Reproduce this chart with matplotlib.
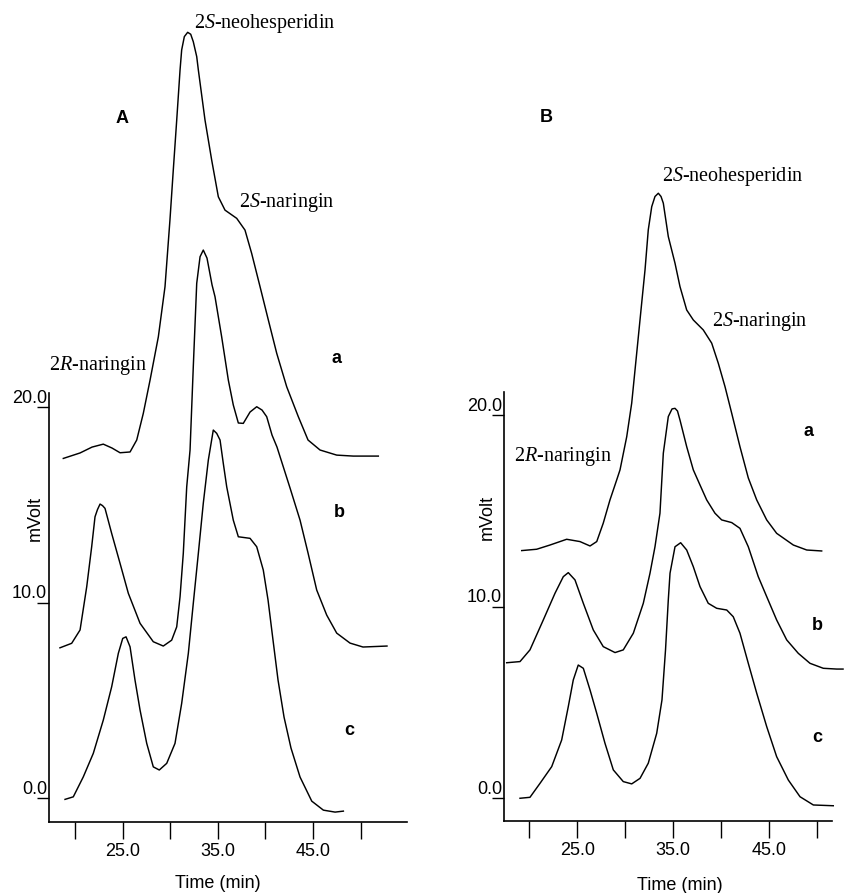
import matplotlib
matplotlib.use('Agg')
import matplotlib.pyplot as plt

plt.rcParams['font.family'] = 'Liberation Sans'
plt.rcParams['mathtext.fontset'] = 'custom'
plt.rcParams['mathtext.rm'] = 'Liberation Serif'
plt.rcParams['mathtext.it'] = 'Liberation Serif:italic'

# ---- data (time in min, signal in mVolt) ----
x_ticks = [20, 25, 30, 35, 40, 45, 50]
x_ticklabels = ['', '25.0', '', '35.0', '', '45.0', '']
y_ticks = [0, 10, 20]
y_ticklabels = ['0.0', '10.0', '20.0']

# panel A
tA_a = [18.77, 20.53, 21.79, 22.97, 23.89, 24.73, 25.78, 26.48, 27.17, 27.88, 28.75, 29.45,
        29.97, 30.32, 30.68, 31.03, 31.20, 31.48, 31.83, 32.15, 32.42, 32.78, 32.95, 33.65,
        34.35, 35.05, 35.75, 36.98, 37.85, 38.55, 39.43, 40.30, 41.18, 42.23, 43.45, 44.47,
        45.73, 47.48, 49.22, 51.85]
vA_a = [17.36, 17.64, 17.94, 18.09, 17.89, 17.65, 17.69, 18.30, 19.66, 21.36, 23.57, 26.13,
        29.54, 32.09, 34.64, 37.20, 38.22, 38.90, 39.12, 39.02, 38.64, 37.88, 37.20, 34.64,
        32.60, 30.72, 30.04, 29.62, 29.02, 27.83, 26.13, 24.43, 22.73, 21.02, 19.49, 18.30,
        17.79, 17.53, 17.48, 17.48]

tA_b = [18.42, 19.65, 20.53, 21.23, 21.75, 22.10, 22.36, 22.63, 22.89, 23.15, 23.85, 24.73,
        25.60, 26.83, 28.22, 29.27, 30.15, 30.68, 31.03, 31.37, 31.73, 32.08, 32.42, 32.78,
        33.13, 33.47, 33.86, 34.39, 34.70, 35.40, 36.10, 36.62, 37.15, 37.67, 38.38, 39.08,
        39.64, 40.13, 40.69, 41.21, 42.58, 43.63, 44.47, 45.38, 46.43, 47.48, 48.88, 50.24,
        52.76]
vA_b = [7.69, 7.92, 8.60, 10.81, 12.85, 14.38, 14.75, 15.03, 14.95, 14.81, 13.53, 12.00,
        10.47, 8.94, 8.00, 7.78, 8.08, 8.76, 10.30, 12.51, 15.91, 17.79, 22.04, 26.30,
        27.66, 28.00, 27.59, 26.22, 25.62, 23.57, 21.36, 20.09, 19.17, 19.15, 19.73, 20.00,
        19.83, 19.49, 18.55, 17.94, 15.85, 14.21, 12.53, 10.64, 9.36, 8.44, 7.93, 7.73,
        7.78]

tA_c = [18.95, 19.82, 20.87, 21.92, 22.97, 23.85, 24.55, 25.01, 25.36, 25.78, 26.30, 26.83,
        27.53, 28.22, 28.85, 29.63, 30.50, 31.20, 31.90, 32.42, 32.95, 33.47, 34.00, 34.52,
        34.88, 35.23, 35.57, 35.93, 36.62, 37.15, 38.38, 39.08, 39.77, 40.27, 40.79, 41.32,
        41.95, 42.68, 43.63, 44.86, 46.08, 47.31, 48.18]
vA_c = [-0.05, 0.08, 1.10, 2.30, 4.00, 5.70, 7.41, 8.17, 8.25, 7.74, 6.04, 4.51,
        2.81, 1.61, 1.45, 1.79, 2.81, 4.85, 7.41, 9.96, 12.51, 15.07, 17.28, 18.81,
        18.64, 18.30, 17.11, 15.91, 14.21, 13.36, 13.28, 12.85, 11.66, 10.13, 8.09, 6.04,
        4.15, 2.57, 1.09, -0.14, -0.60, -0.70, -0.65]

# panel B
tB_a = [19.21, 20.77, 22.16, 23.90, 25.29, 26.34, 27.04, 27.72, 28.42, 29.12, 29.47, 30.17,
        30.69, 31.21, 31.73, 32.08, 32.42, 32.78, 33.12, 33.47, 33.75, 33.99, 34.51, 35.21,
        35.73, 36.43, 37.12, 38.16, 39.04, 39.73, 40.43, 41.13, 41.99, 42.86, 43.74, 44.78,
        45.82, 47.56, 48.96, 50.52]
vB_a = [12.92, 12.99, 13.21, 13.51, 13.39, 13.16, 13.39, 14.35, 15.56, 16.60, 17.13, 18.86,
        20.61, 23.21, 25.82, 27.56, 29.65, 30.86, 31.39, 31.56, 31.39, 31.04, 29.30, 27.91,
        26.69, 25.47, 24.95, 24.43, 23.74, 22.69, 21.47, 20.08, 18.34, 16.71, 15.56, 14.52,
        13.82, 13.21, 12.95, 12.90]

tB_b = [17.64, 19.03, 20.07, 21.46, 22.68, 23.55, 24.07, 24.77, 25.64, 26.68, 27.72, 28.95,
        29.81, 30.86, 31.90, 32.60, 33.12, 33.64, 33.99, 34.51, 34.90, 35.21, 35.47, 35.73,
        36.43, 37.12, 37.82, 38.52, 39.38, 40.08, 41.13, 41.99, 42.86, 43.90, 44.78, 45.82,
        46.87, 48.08, 49.30, 50.69, 52.09, 52.75]
vB_b = [7.07, 7.13, 7.74, 9.30, 10.69, 11.56, 11.77, 11.39, 10.17, 8.78, 7.91, 7.60,
        7.74, 8.61, 10.17, 11.74, 13.12, 14.87, 18.00, 19.91, 20.31, 20.34, 20.20, 19.73,
        18.34, 17.13, 16.34, 15.56, 14.87, 14.52, 14.38, 14.08, 13.12, 11.56, 10.52, 9.30,
        8.26, 7.56, 7.04, 6.78, 6.74, 6.74]

tB_c = [19.03, 20.07, 21.12, 22.34, 23.38, 24.07, 24.59, 25.11, 25.64, 26.34, 27.04, 27.90,
        28.77, 29.81, 30.69, 31.56, 32.42, 33.30, 33.85, 34.22, 34.51, 34.69, 35.21, 35.80,
        36.43, 37.12, 37.82, 38.68, 39.56, 40.61, 41.29, 41.99, 42.86, 43.74, 44.78, 45.82,
        47.04, 48.26, 49.65, 51.73]
vB_c = [0.00, 0.05, 0.78, 1.65, 3.04, 4.78, 6.17, 6.95, 6.78, 5.65, 4.43, 2.87,
        1.48, 0.87, 0.75, 1.04, 1.83, 3.39, 5.13, 7.74, 10.35, 11.74, 13.12, 13.33,
        12.95, 12.08, 11.04, 10.17, 9.91, 9.82, 9.47, 8.61, 7.04, 5.48, 3.74, 2.17,
        0.95, 0.08, -0.35, -0.39]

W, H = 844, 893
fig = plt.figure(figsize=(W / 100, H / 100), dpi=100)


def add_axes_px(left, top, right, bottom):
    ax = fig.add_axes([left / W, 1 - bottom / H, (right - left) / W, (bottom - top) / H])
    ax.patch.set_alpha(0)
    return ax


def ftext(px, py, s, **kw):
    return fig.text(px / W, 1 - py / H, s, **kw)


def style(ax, ytop, xright):
    for s in ['top', 'right']:
        ax.spines[s].set_visible(False)
    for s in ['left', 'bottom']:
        ax.spines[s].set_linewidth(1.2)
    ax.spines['left'].set_bounds(ax.get_ylim()[0], ytop)
    ax.spines['bottom'].set_bounds(ax.get_xlim()[0], xright)
    ax.set_xticks(x_ticks)
    ax.set_xticklabels(x_ticklabels)
    ax.tick_params(axis='x', direction='out', length=12, width=1.0, pad=3, labelsize=13)
    ax.set_yticks(y_ticks)
    ax.set_yticklabels([])
    ax.tick_params(axis='y', direction='out', length=8.5, width=1.0)
    for v, lab in zip(y_ticks, y_ticklabels):
        ax.annotate(lab, xy=(0, v), xycoords=('axes fraction', 'data'), xytext=(-1.5, 3),
                    textcoords='offset points', ha='right', va='baseline', fontsize=13)


lw = 1.05
serif = 'Liberation Serif'

# ---- panel A ----
axA = add_axes_px(49.3, 0, 406.7, 821.7)
axA.set_xlim(17.30, 54.83)
axA.set_ylim(-1.19, 40.77)
for t, v in [(tA_a, vA_a), (tA_b, vA_b), (tA_c, vA_c)]:
    axA.plot(t, v, color='black', lw=lw, clip_on=False, solid_joinstyle='round')
style(axA, 20.7, 54.83)

# ---- panel B ----
axB = add_axes_px(504, 0, 844, 820.7)
axB.set_xlim(17.36, 52.85)
axB.set_ylim(-1.17, 41.64)
for t, v in [(tB_a, vB_a), (tB_b, vB_b), (tB_c, vB_c)]:
    axB.plot(t, v, color='black', lw=lw, clip_on=False, solid_joinstyle='round')
style(axB, 21.2, 51.57)

# panel letters and trace letters
ftext(122, 122.7, 'A', fontsize=13, fontweight='bold', ha='center', va='baseline')
ftext(546, 121.7, 'B', fontsize=13, fontweight='bold', ha='center', va='baseline')
for x, y, s in [(336.7, 362.7, 'a'), (339.3, 516.7, 'b'), (349.3, 735, 'c'),
                (808, 436, 'a'), (817.7, 630, 'b'), (817.7, 742.3, 'c')]:
    ftext(x, y, s, fontsize=13, fontweight='bold', ha='center', va='baseline')

# peak names
for x, y, s in [(265, 28, r'2$\mathit{S}$-neohesperidin'), (287, 207.3, r'2$\mathit{S}$-naringin'),
                (98, 370, r'2$\mathit{R}$-naringin'),
                (732.3, 181, r'2$\mathit{S}$-neohesperidin'), (760, 326, r'2$\mathit{S}$-naringin'),
                (563.3, 460.7, r'2$\mathit{R}$-naringin')]:
    ftext(x, y, s, fontsize=14.5, family=serif, ha='center', va='baseline')

# axis titles
ftext(35, 518, 'mVolt', fontsize=13, rotation=90, ha='center', va='center')
ftext(487, 517, 'mVolt', fontsize=13, rotation=90, ha='center', va='center')
ftext(218, 884, 'Time (min)', fontsize=13, ha='center', va='center')
ftext(680, 886, 'Time (min)', fontsize=13, ha='center', va='center')

fig.savefig('out.png', dpi=100)
